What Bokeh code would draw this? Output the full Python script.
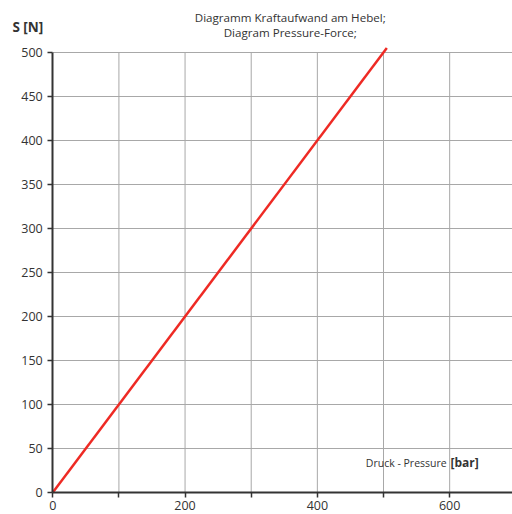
from bokeh.plotting import figure
from bokeh.models import Label, FixedTicker, Range1d, LinearAxis
from bokeh.embed import file_html
from bokeh.resources import INLINE

pressure = [0, 505]
force = [0, 505]
x_ticks = [0, 100, 200, 300, 400, 500, 600, 700]
x_tick_labels = {0: "0", 100: "", 200: "200", 300: "", 400: "400", 500: "", 600: "600", 700: ""}
y_ticks = [0, 50, 100, 150, 200, 250, 300, 350, 400, 450, 500]
title_lines = ["Diagramm Kraftaufwand am Hebel;", "Diagram Pressure-Force;"]
y_label = "S [N]"
x_label_main = "Druck - Pressure"
x_label_unit = "[bar]"

x_max = 700
y_max = 500

FONT = "Open Sans"
TXT = "#333333"
p = figure(width=512, height=514, output_backend="svg", toolbar_location=None,
           x_range=Range1d(-79, 695), y_range=Range1d(-25, 559.1),
           x_axis_location=None, y_axis_location=None,
           min_border_left=0, min_border_right=0, min_border_top=0, min_border_bottom=0)
p.outline_line_color = None
p.background_fill_color = "white"
p.border_fill_color = "white"
p.xgrid.visible = False
p.ygrid.visible = False

# grid lines
p.segment(x0=[0] * len(y_ticks[1:]), y0=y_ticks[1:], x1=[x_max] * len(y_ticks[1:]), y1=y_ticks[1:],
          line_color="#a8a8a8", line_width=1)
p.segment(x0=x_ticks[1:], y0=[0] * len(x_ticks[1:]), x1=x_ticks[1:], y1=[y_max] * len(x_ticks[1:]),
          line_color="#a8a8a8", line_width=1)

p.line(pressure, force, line_color="#ee2a24", line_width=2.5)

xaxis = LinearAxis(fixed_location=0, ticker=FixedTicker(ticks=x_ticks), bounds=(0, x_max))
yaxis = LinearAxis(fixed_location=0, ticker=FixedTicker(ticks=y_ticks), bounds=(0, y_max))
for ax in (xaxis, yaxis):
    ax.axis_line_color = TXT
    ax.axis_line_width = 2
    ax.major_tick_line_color = TXT
    ax.major_tick_line_width = 1.5
    ax.major_tick_out = 5
    ax.major_tick_in = 0
    ax.minor_tick_line_color = None
    ax.major_label_text_font = FONT
    ax.major_label_text_font_size = "12.5px"
    ax.major_label_text_color = TXT
xaxis.major_label_overrides = x_tick_labels
xaxis.major_label_standoff = 3
yaxis.major_label_standoff = 5
p.add_layout(xaxis, "below")
p.add_layout(yaxis, "left")

p.add_layout(Label(x=359, y=540, text=title_lines[0], text_align="center",
                   text_baseline="middle", text_font=FONT, text_font_size="11.6px", text_color=TXT))
p.add_layout(Label(x=359, y=522.7, text=title_lines[1], text_align="center",
                   text_baseline="middle", text_font=FONT, text_font_size="11.6px", text_color=TXT))
p.add_layout(Label(x=-61, y=529.5, text=y_label, text_align="left",
                   text_baseline="middle", text_font=FONT, text_font_size="13.5px",
                   text_font_style="bold", text_color=TXT))
p.add_layout(Label(x=595.5, y=34, text=x_label_main, text_align="right", text_baseline="middle",
                   text_font=FONT, text_font_size="10.5px", text_color=TXT))
p.add_layout(Label(x=644, y=34, text=x_label_unit, text_align="right", text_baseline="middle",
                   text_font=FONT, text_font_size="12px", text_font_style="bold", text_color=TXT))

open("out.html", "w").write(file_html(p, INLINE))
